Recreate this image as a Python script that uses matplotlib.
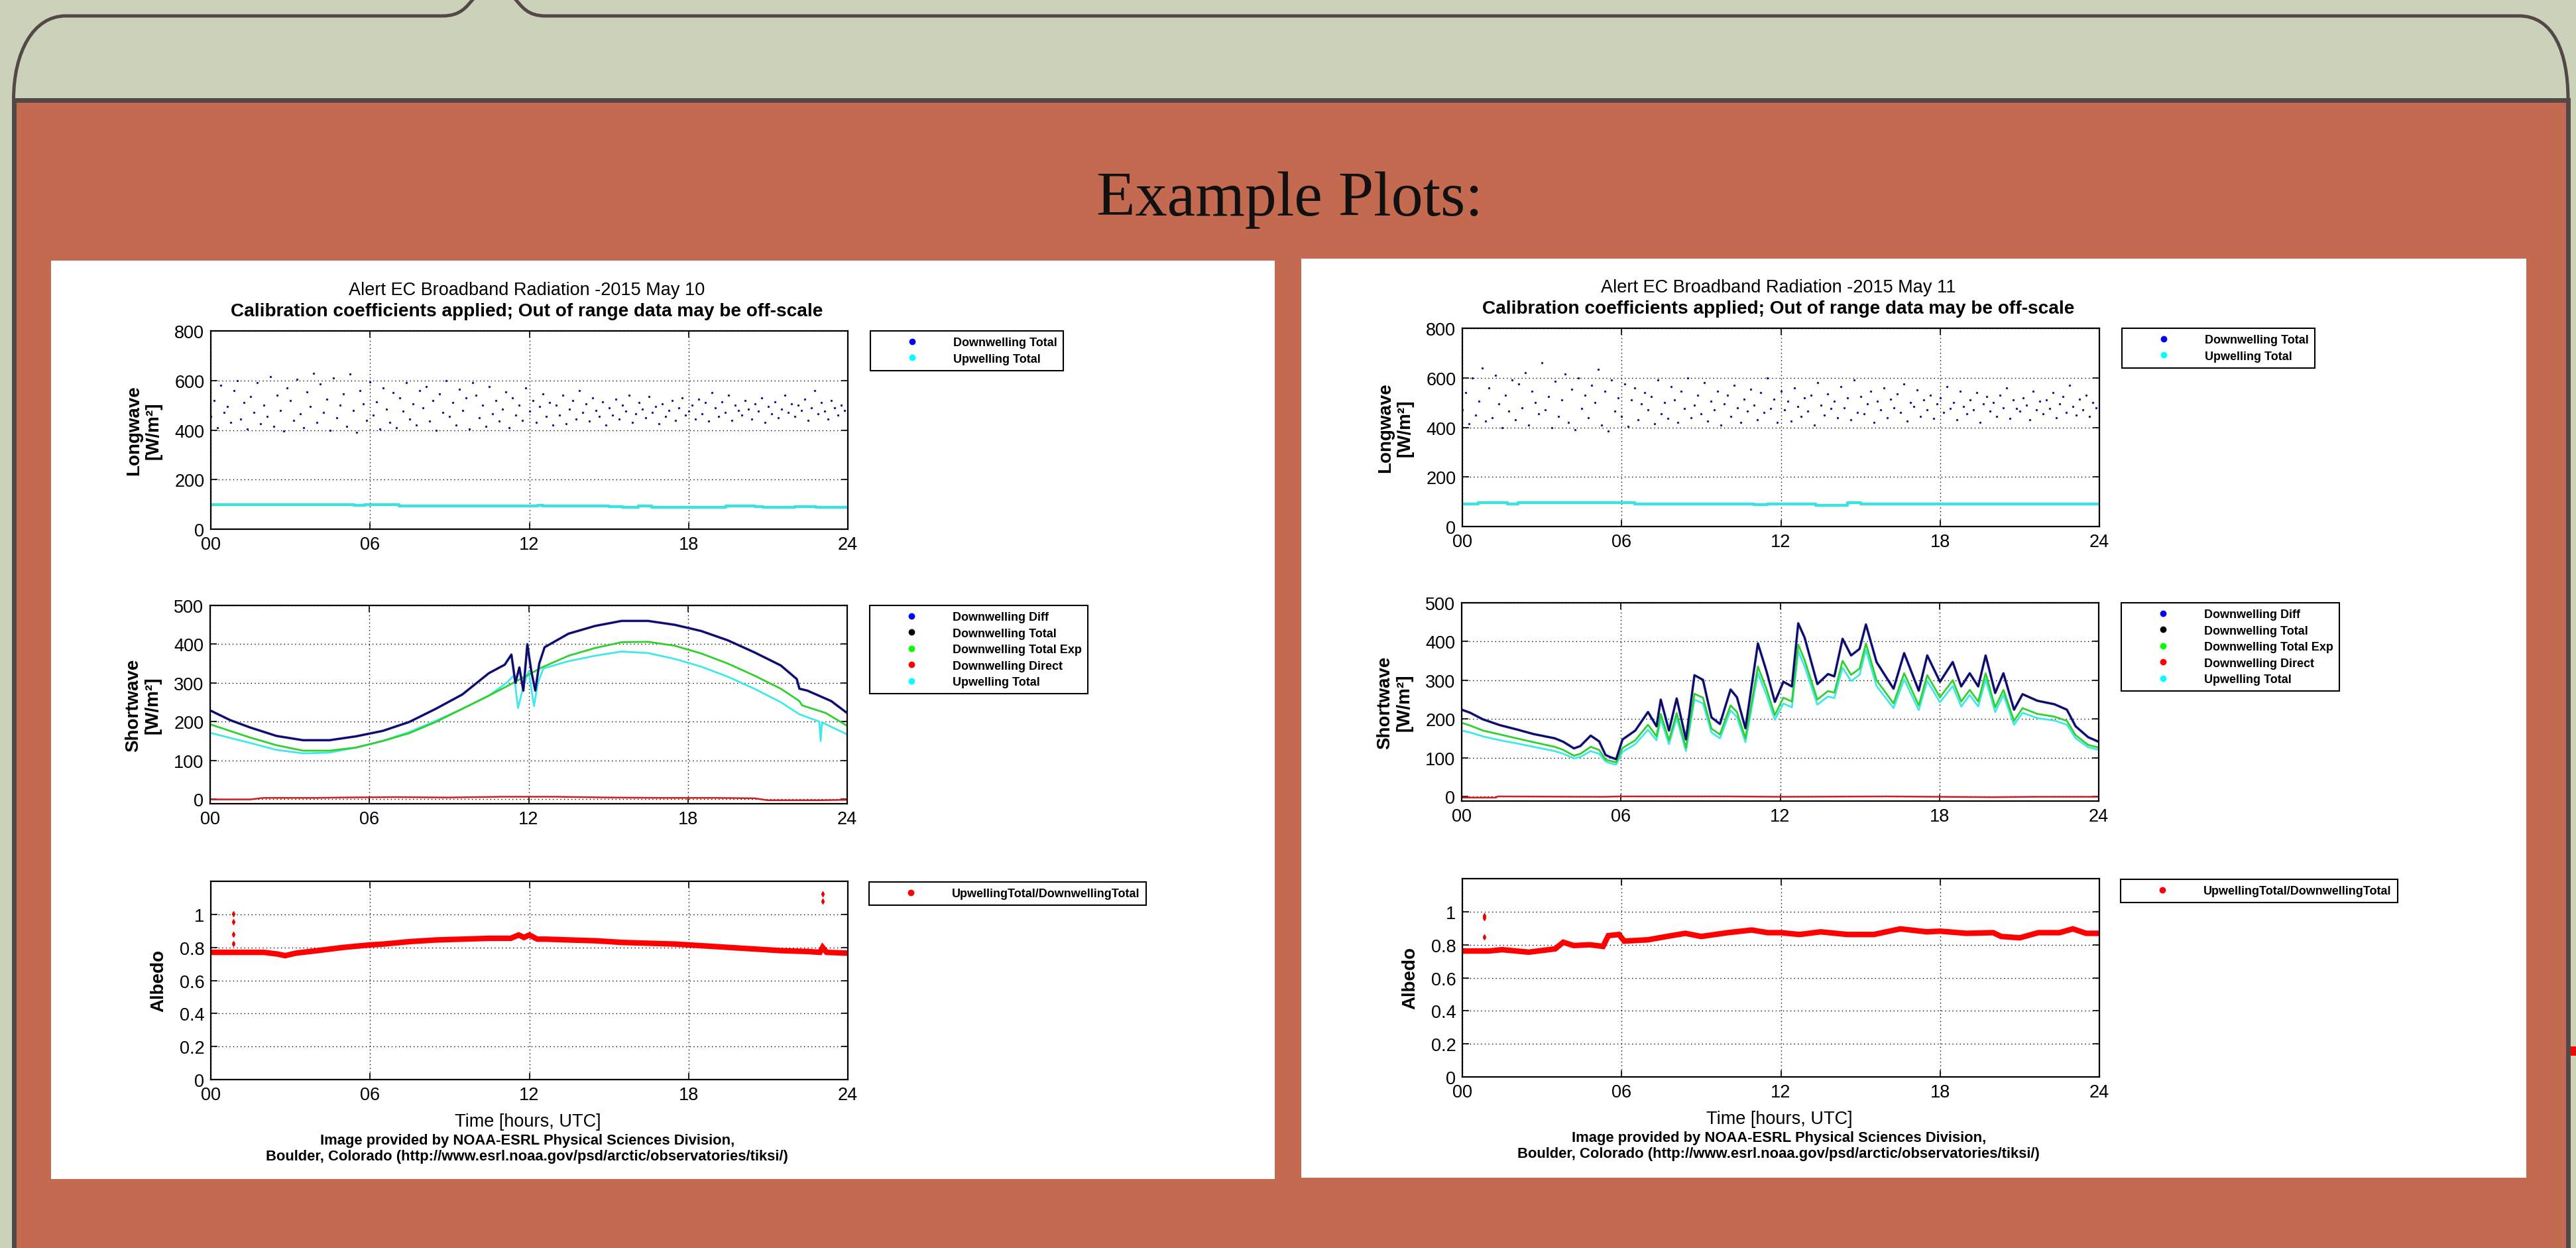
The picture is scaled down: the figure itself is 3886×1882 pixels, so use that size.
import numpy as np
import matplotlib.pyplot as plt
from matplotlib.patches import Rectangle, PathPatch
from matplotlib.path import Path
from matplotlib.lines import Line2D

plt.rcParams['font.family'] = 'Liberation Sans'

W, H = 3886, 1883

# ---- data ----
hour_ticks = [0, 6, 12, 18, 24]
hour_labels = ['00', '06', '12', '18', '24']
days = ['2015 May 10', '2015 May 11']

# longwave downwelling, one value every 7.5 minutes (scattered dots)
lw_step = 0.125
lw_down_10 = [455, 520, 410, 580, 470, 495, 430, 560, 600, 445, 510, 405, 535, 470, 590, 425,
              500, 455, 615, 415, 540, 480, 395, 570, 520, 440, 605, 465, 410, 555, 495, 630,
              430, 585, 470, 525, 400, 610, 450, 500, 545, 415, 625, 480, 390, 560, 505, 440,
              595, 460, 515, 405, 570, 485, 430, 550, 410, 530, 475, 590, 445, 505, 420, 560,
              490, 575, 435, 520, 400, 545, 470, 600, 455, 510, 420, 565, 480, 530, 405, 590,
              540, 450, 500, 415, 575, 465, 520, 435, 485, 555, 410, 530, 460, 500, 440, 570,
              475, 520, 430, 495, 545, 455, 510, 420, 500, 460, 540, 425, 485, 520, 445, 560,
              470, 505, 435, 530, 480, 455, 515, 420, 490, 460, 525, 445, 500, 475, 540, 430,
              465, 510, 485, 450, 535, 470, 495, 425, 505, 455, 480, 520, 440, 490, 530, 460,
              475, 500, 445, 525, 465, 510, 435, 550, 490, 455, 515, 470, 540, 440, 500, 480,
              460, 520, 485, 445, 505, 475, 530, 430, 495, 465, 515, 450, 485, 540, 470, 505,
              455, 500, 480, 525, 440, 490, 560, 465, 510, 475, 445, 520, 490, 460, 500, 480]
lw_down_11 = [470, 540, 415, 600, 450, 505, 640, 425, 560, 440, 610, 495, 400, 530, 465, 590,
              430, 575, 480, 620, 410, 545, 500, 455, 660, 470, 525, 400, 585, 445, 510, 615,
              420, 555, 390, 600, 475, 530, 440, 570, 500, 635, 410, 545, 385, 590, 465, 520,
              445, 575, 405, 510, 560, 430, 495, 540, 470, 525, 415, 590, 455, 500, 435, 565,
              510, 420, 545, 475, 600, 440, 490, 530, 455, 580, 425, 505, 470, 545, 410, 495,
              530, 445, 570, 480, 420, 515, 465, 555, 490, 430, 540, 460, 600, 475, 515, 420,
              545, 470, 505, 425, 560, 485, 445, 520, 465, 530, 410, 580, 490, 450, 535, 475,
              505, 440, 565, 480, 520, 430, 590, 460, 525, 455, 495, 545, 420, 505, 470, 560,
              440, 515, 480, 535, 460, 575, 425, 500, 485, 550, 445, 510, 470, 530, 435, 495,
              520, 460, 565, 475, 500, 430, 545, 485, 455, 510, 470, 540, 420, 495, 525, 465,
              500, 445, 530, 480, 560, 435, 510, 475, 465, 520, 490, 430, 545, 470, 505, 455,
              510, 475, 540, 440, 495, 525, 460, 570, 485, 450, 515, 470, 530, 445, 500, 480]

# longwave upwelling (step line)
lwup_hours_10 = [0, 5.4, 5.8, 7.1, 8.7, 12.3, 12.5, 15.0, 15.5, 16.1, 16.6, 17.3, 19.4, 20.5, 20.8, 22.0, 22.3, 22.8, 24]
lwup_10 = [98, 95, 98, 94, 93, 97, 93, 92, 88, 93, 89, 88, 93, 92, 88, 92, 90, 88, 88]
lwup_hours_11 = [0, 0.6, 1.7, 2.1, 6.5, 11.0, 11.5, 12.0, 13.3, 14.5, 15.0, 24]
lwup_11 = [92, 97, 91, 97, 90, 87, 90, 90, 85, 95, 90, 90]

# shortwave, May 10
sw_hours_10 = [0, 0.75, 1.5, 2.5, 3.5, 4.5, 5.5, 6.5, 7.5, 8.5, 9.5, 10.5, 11.1, 11.35, 11.5, 11.65,
               11.8, 11.95, 12.1, 12.25, 12.4, 12.6, 13.5, 14.5, 15.5, 16.5, 17.5, 18.5, 19.5,
               20.5, 21.5, 22.1, 22.2, 22.5, 23.4, 24]
sw_total_10 = [229, 204, 185, 163, 152, 152, 162, 176, 199, 233, 270, 325, 347, 373, 300, 340,
               280, 400, 330, 280, 350, 392, 427, 447, 460, 460, 450, 434, 410,
               379, 345, 310, 285, 280, 253, 222]
exp_hours_10 = [0, 1.5, 2.5, 3.5, 4.5, 5.5, 6.5, 7.5, 8.5, 9.5, 10.5, 11.2, 12.5, 13.5, 14.5, 15.5,
                16.5, 17.5, 18.5, 19.5, 20.5, 21.5, 22.2, 22.3, 23.2, 24]
sw_exp_10 = [193, 159, 139, 125, 125, 133, 150, 170, 199, 233, 267, 292, 340, 370, 390, 405,
             406, 396, 376, 350, 319, 285, 253, 242, 222, 189]
up_hours_10 = [0, 1.5, 2.5, 3.5, 4.5, 5.5, 6.5, 7.5, 8.5, 9.5, 10.5, 11.2, 11.45, 11.6, 11.8, 12.0,
               12.2, 12.35, 12.55, 13.5, 14.5, 15.5, 16.5, 17.5, 18.5, 19.5, 20.5, 21.5, 22.2,
               22.95, 23.0, 23.05, 24]
sw_up_10 = [171, 145, 127, 118, 120, 133, 150, 173, 202, 233, 267, 302, 320, 235, 290, 330,
            240, 300, 337, 356, 370, 381, 377, 362, 342, 316, 285, 250, 219,
            200, 150, 198, 167]
dir_hours_10 = [0, 1.5, 2, 4, 5, 7, 9, 11, 13, 15, 17, 19, 20.5, 21, 23, 24]
sw_dir_10 = [-1, -1, 3, 3, 4, 5, 4, 6, 6, 4, 3, 3, 2, -3, -3, -2]

# shortwave, May 11
sw_hours_11 = [0, 0.32, 0.8, 1.44, 2.07, 2.71, 3.51, 3.83, 4.23, 4.47, 4.86, 5.18, 5.42, 5.58, 5.82,
               6.06, 6.54, 7.02, 7.34, 7.5, 7.81, 8.1, 8.45, 8.77, 9.09, 9.41, 9.73, 10.13, 10.37,
               10.69, 11.16, 11.48, 11.8, 12.12, 12.44, 12.68, 12.92, 13.4, 13.8, 14.04, 14.35,
               14.67, 14.99, 15.23, 15.63, 16.27, 16.67, 17.22, 17.54, 18.02, 18.5, 18.82, 19.14,
               19.46, 19.74, 20.1, 20.41, 20.81, 21.13, 21.69, 22.33, 22.8, 23.13, 23.6, 24]
sw_total_11 = [224, 216, 199, 184, 173, 161, 150, 141, 124, 130, 157, 142, 107, 102, 96,
               147, 170, 218, 181, 250, 170, 253, 147, 313, 301, 204, 187, 276, 256,
               176, 395, 324, 244, 296, 284, 447, 410, 290, 316, 310, 407,
               364, 381, 444, 347, 278, 370, 273, 364, 296, 347, 284, 318,
               284, 364, 267, 318, 224, 264, 247, 238, 224, 181, 153, 141]
sw_exp_11 = [190, 183, 170, 160, 150, 140, 128, 120, 105, 110, 128, 120, 95, 92, 88,
             125, 145, 185, 155, 213, 145, 215, 125, 265, 255, 175, 160, 235, 218,
             150, 335, 278, 210, 255, 245, 392, 352, 250, 272, 268, 350,
             314, 330, 395, 300, 240, 318, 235, 313, 256, 300, 245, 275,
             245, 318, 230, 275, 195, 228, 213, 206, 195, 158, 133, 126]
sw_up_11 = [170, 165, 155, 145, 137, 128, 117, 110, 98, 102, 117, 110, 90, 86, 82,
            115, 135, 172, 145, 200, 135, 202, 117, 250, 240, 165, 150, 222, 205,
            140, 318, 262, 198, 240, 230, 375, 336, 237, 258, 254, 332,
            298, 314, 378, 285, 228, 302, 223, 298, 243, 285, 232, 262,
            232, 302, 218, 262, 185, 216, 202, 196, 185, 150, 127, 120]
dir_hours_11 = [0, 1.3, 1.35, 5.3, 6, 10, 12, 16, 20, 21.5, 24]
sw_dir_11 = [-3, -3, 0, -1, 0, 0, -1, 0, -2, -1, -1]

# albedo
alb_hours_10 = [0, 1, 2, 2.5, 2.8, 3.2, 4, 5, 6, 6.5, 7.5, 8.5, 9.5, 10.5, 11.3, 11.6, 11.8, 12.0,
                12.3, 12.6, 13.5, 14.5, 15.5, 16.5, 17.5, 18.5, 19.5, 20.5, 21.5, 22.5, 22.95,
                23.05, 23.2, 24]
alb_10 = [0.77, 0.77, 0.77, 0.76, 0.75, 0.765, 0.78, 0.80, 0.815, 0.82, 0.835, 0.845, 0.85, 0.855,
          0.855, 0.875, 0.86, 0.875, 0.85, 0.85, 0.845, 0.84, 0.83, 0.825, 0.82, 0.81, 0.80, 0.79,
          0.78, 0.775, 0.77, 0.80, 0.77, 0.765]
alb_out_hours_10 = [0.86, 0.86, 0.86, 0.86, 23.04, 23.04]
alb_out_10 = [1.004, 0.957, 0.877, 0.821, 1.122, 1.078]
alb_hours_11 = [0, 1, 1.5, 2.5, 3.5, 3.8, 4.2, 4.8, 5.3, 5.5, 5.9, 6.1, 7, 7.7, 8.4, 9, 10, 10.9,
                11.5, 12, 12.7, 13.5, 14.5, 15.5, 16.5, 17.5, 18, 19, 20, 20.3, 21, 21.7, 22.5,
                23, 23.5, 24]
alb_11 = [0.762, 0.762, 0.77, 0.755, 0.775, 0.815, 0.795, 0.80, 0.79, 0.855, 0.862, 0.822, 0.83,
          0.85, 0.869, 0.85, 0.873, 0.889, 0.873, 0.873, 0.862, 0.878, 0.862, 0.862, 0.896, 0.878,
          0.882, 0.869, 0.873, 0.85, 0.842, 0.873, 0.873, 0.896, 0.869, 0.869]
alb_out_hours_11 = [0.83, 0.83, 0.83]
alb_out_11 = [0.976, 0.963, 0.845]

lw_labels = ['Downwelling Total', 'Upwelling Total']
sw_labels = ['Downwelling Diff', 'Downwelling Total', 'Downwelling Total Exp',
             'Downwelling Direct', 'Upwelling Total']
alb_labels = ['UpwellingTotal/DownwellingTotal']

# ---- figure / slide background ----
BG = '#CCD1B9'
SLIDE_RED = '#C46A50'
EDGE = '#524848'

fig = plt.figure(figsize=(W / 100, H / 100), dpi=100, facecolor=BG)
bg = fig.add_axes([0, 0, 1, 1])
bg.set_xlim(0, W)
bg.set_ylim(H, 0)
bg.axis('off')

bg.add_patch(Rectangle((20.5, 151.5), 3853.5, 1800, facecolor=SLIDE_RED, edgecolor=EDGE, lw=5))
tab = Path([(20.5, 151), (20.5, 80), (50, 25), (99, 25), (667, 25),
            (695, 25), (703, 12), (716, -3),
            (775, -3), (788, 12), (796, 25), (823, 25), (3800, 25),
            (3852, 25), (3874, 80), (3874, 151)],
           [Path.MOVETO, Path.CURVE4, Path.CURVE4, Path.CURVE4, Path.LINETO,
            Path.CURVE4, Path.CURVE4, Path.CURVE4,
            Path.MOVETO, Path.CURVE4, Path.CURVE4, Path.CURVE4, Path.LINETO,
            Path.CURVE4, Path.CURVE4, Path.CURVE4])
bg.add_patch(PathPatch(tab, facecolor='none', edgecolor=EDGE, lw=3.6))
bg.add_patch(Rectangle((3878, 1579), 8, 14, facecolor='red', edgecolor='none'))

bg.text(1945, 302, 'Example Plots:', family='Liberation Serif', fontsize=69,
        ha='center', va='center', color='#111111')

bg.add_patch(Rectangle((77, 394), 1846, 1385, facecolor='white', edgecolor='none'))
bg.add_patch(Rectangle((1963, 391), 1848, 1386, facecolor='white', edgecolor='none'))


def px_axes(left, top, w, h):
    return fig.add_axes([left / W, 1 - (top + h) / H, w / W, h / H])


def style(ax, yticks, ylabels, ylim):
    ax.set_xlim(0, 24)
    ax.set_ylim(*ylim)
    ax.set_xticks(hour_ticks)
    ax.set_xticklabels(hour_labels)
    ax.set_yticks(yticks)
    ax.set_yticklabels(ylabels)
    ax.grid(True, color='black', ls=(0, (1, 3)), lw=1.0)
    ax.tick_params(direction='in', length=7, width=1.2, top=True, right=True,
                   labelsize=19.5, pad=7)
    for s in ax.spines.values():
        s.set_linewidth(1.6)


def add_legend(ax, labels, colors, x, y):
    handles = [Line2D([], [], ls='none', marker='o', ms=6, color=c) for c in colors]
    leg = ax.legend(handles, labels, loc='upper left', bbox_to_anchor=(x / W, 1 - y / H),
                    bbox_transform=fig.transFigure, borderaxespad=0, fancybox=False,
                    framealpha=1, edgecolor='black',
                    prop=dict(family='Liberation Sans', weight='bold', size=13),
                    handlelength=6.0, handletextpad=0.43, borderpad=0.5,
                    labelspacing=0.42, numpoints=1)
    leg.get_frame().set_linewidth(1.5)


def ylab(ax, text, xoff):
    ax.text(-xoff / 961, 0.5, text, transform=ax.transAxes, rotation=90, ha='center',
            va='center', fontsize=20, fontweight='bold', linespacing=1.15)


panels = [
    dict(dx=0, dy=0, day=days[0], lw=lw_down_10, lwup_h=lwup_hours_10, lwup=lwup_10,
         sw_h=sw_hours_10, tot=sw_total_10, exp_h=exp_hours_10, exp=sw_exp_10,
         up_h=up_hours_10, up=sw_up_10, dir_h=dir_hours_10, dir=sw_dir_10,
         alb_h=alb_hours_10, alb=alb_10, out_h=alb_out_hours_10, out=alb_out_10),
    dict(dx=1888, dy=-4, day=days[1], lw=lw_down_11, lwup_h=lwup_hours_11, lwup=lwup_11,
         sw_h=sw_hours_11, tot=sw_total_11, exp_h=sw_hours_11, exp=sw_exp_11,
         up_h=sw_hours_11, up=sw_up_11, dir_h=dir_hours_11, dir=sw_dir_11,
         alb_h=alb_hours_11, alb=alb_11, out_h=alb_out_hours_11, out=alb_out_11),
]

for p in panels:
    dx, dy = p['dx'], p['dy']

    bg.text(795 + dx, 438 + dy, 'Alert EC Broadband Radiation -' + p['day'],
            fontsize=19.5, ha='center', va='center')
    bg.text(795 + dx, 470 + dy, 'Calibration coefficients applied; Out of range data may be off-scale',
            fontsize=20.2, fontweight='bold', ha='center', va='center')

    # longwave
    ax1 = px_axes(318 + dx, 500 + dy, 961, 299)
    lw_h = np.arange(len(p['lw'])) * lw_step
    ax1.plot(lw_h, p['lw'], ls='none', marker='o', ms=2.4, mew=0, color='#14148c')
    ax1.plot(p['lwup_h'], p['lwup'], drawstyle='steps-post', color='#3fe0e0', lw=3.2)
    style(ax1, [0, 200, 400, 600, 800], ['0', '200', '400', '600', '800'], (0, 800))
    ylab(ax1, 'Longwave\n[W/m²]', 101)
    add_legend(ax1, lw_labels, ['#0000ff', '#00ffff'], 1313 + dx, 500 + dy)

    # shortwave
    ax2 = px_axes(317 + dx, 914 + dy, 961, 299)
    ax2.plot(p['dir_h'], p['dir'], color='#cc2020', lw=1.8)
    ax2.plot(p['up_h'], p['up'], color='#40e8e8', lw=2)
    ax2.plot(p['exp_h'], p['exp'], color='#30d030', lw=2)
    ax2.plot(p['sw_h'], p['tot'], color='#2020c0', lw=2.6)
    ax2.plot(p['sw_h'], p['tot'], color='#0a0a30', lw=1.2)
    style(ax2, [0, 100, 200, 300, 400, 500], ['0', '100', '200', '300', '400', '500'], (-12, 500))
    ylab(ax2, 'Shortwave\n[W/m²]', 101)
    add_legend(ax2, sw_labels, ['#0000ff', 'black', '#00ff00', '#ff0000', '#00ffff'],
               1312 + dx, 914 + dy)

    # albedo
    ax3 = px_axes(318 + dx, 1330 + dy, 961, 299)
    ax3.plot(p['alb_h'], p['alb'], color='#ff0000', lw=6, solid_joinstyle='miter')
    ax3.plot(p['out_h'], p['out'], ls='none', marker='d', ms=4, color='#ee0000')
    style(ax3, [0, 0.2, 0.4, 0.6, 0.8, 1.0], ['0', '0.2', '0.4', '0.6', '0.8', '1'], (0, 1.2))
    ylab(ax3, 'Albedo', 79)
    add_legend(ax3, alb_labels, ['#ff0000'], 1311 + dx, 1331 + dy)

    bg.text(796 + dx, 1692 + dy, 'Time [hours, UTC]', fontsize=19.5, ha='center', va='center')
    bg.text(796 + dx, 1721 + dy, 'Image provided by NOAA-ESRL Physical Sciences Division,',
            fontsize=15.8, fontweight='bold', ha='center', va='center')
    bg.text(795 + dx, 1745 + dy,
            'Boulder, Colorado (http://www.esrl.noaa.gov/psd/arctic/observatories/tiksi/)',
            fontsize=15.8, fontweight='bold', ha='center', va='center')

fig.savefig('out.png', dpi=100, facecolor=BG)
